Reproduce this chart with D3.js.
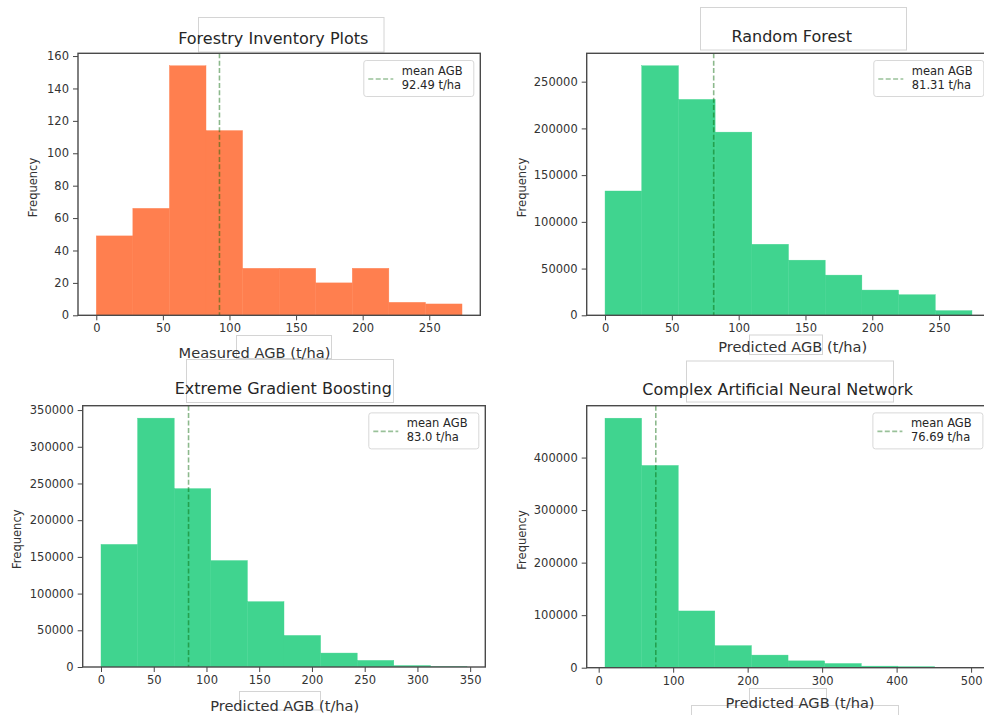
<!DOCTYPE html>
<html>
<head>
<meta charset="utf-8">
<script src="https://cdn.jsdelivr.net/npm/d3@7"></script>
<style>
  body { margin: 0; background: #fff; }
  svg { display: block; font-family: "DejaVu Sans", sans-serif; }
</style>
</head>
<body>
<svg id="chart" width="984" height="715"></svg>
<script>
// ---- data ----
const panelTitles = ["Forestry Inventory Plots", "Random Forest", "Extreme Gradient Boosting", "Complex Artificial Neural Network"];
const xAxisLabels = ["Measured AGB (t/ha)", "Predicted AGB (t/ha)", "Predicted AGB (t/ha)", "Predicted AGB (t/ha)"];
// min / max of each sample; each histogram uses 10 equal-width bins over it
const binRanges = [[0, 274.6], [0, 274.6], [0, 347], [8.5, 500]];
const plotCounts = [49, 66, 154, 114, 29, 29, 20, 29, 8, 7];
const rfCounts = [133000, 267000, 231000, 196000, 76000, 59000, 43000, 27000, 22000, 5000];
const xgbCounts = [167000, 339000, 243000, 145000, 89000, 43000, 19000, 9000, 2000, 400];
const annCounts = [475000, 385000, 108000, 42000, 24000, 13000, 8000, 3000, 2000, 300];
const meanAGB = [92.49, 81.31, 83.0, 76.69];
const meanLabels = ["92.49 t/ha", "81.31 t/ha", "83.0 t/ha", "76.69 t/ha"];
const xTickValues = [
  [0, 50, 100, 150, 200, 250],
  [0, 50, 100, 150, 200, 250],
  [0, 50, 100, 150, 200, 250, 300, 350],
  [0, 100, 200, 300, 400, 500]
];
const yTickValues = [
  [0, 20, 40, 60, 80, 100, 120, 140, 160],
  [0, 50000, 100000, 150000, 200000, 250000],
  [0, 50000, 100000, 150000, 200000, 250000, 300000, 350000],
  [0, 100000, 200000, 300000, 400000]
];

// ---- layout ----
const ORANGE = "#ff7f4f", GREEN = "#40d48f";
const panels = [
  { counts: plotCounts, color: ORANGE, box: { left: 78, top: 53.3, width: 402.3, height: 262 },
    title: [273.3, 38.3], xlab: [254.5, 352.3], ylab: [33.3, 187.5] },
  { counts: rfCounts, color: GREEN, box: { left: 586.7, top: 53.3, width: 403.6, height: 262 },
    title: [791.7, 36], xlab: [792.7, 346.7], ylab: [521.7, 187.5] },
  { counts: xgbCounts, color: GREEN, box: { left: 82.7, top: 405.7, width: 402.6, height: 261.3 },
    title: [283.3, 388.3], xlab: [284.7, 705.7], ylab: [16.7, 539.2] },
  { counts: annCounts, color: GREEN, box: { left: 586.7, top: 405.7, width: 402.7, height: 262 },
    title: [777.7, 389.3], xlab: [800, 702.7], ylab: [521.7, 540] }
];

// faint frame outlines sitting around some of the titles and labels
const frameOutlines = [
  [198.5, 17.5, 185.5, 34.5], [236.5, 335.5, 95, 23], [186.5, 359.5, 207, 43],
  [700.5, 7.5, 206, 42.5], [749.5, 335, 73, 19.5], [686.5, 361, 207, 41],
  [239.5, 691.5, 81, 18.5], [749.5, 688.5, 77, 17], [691.5, 705.5, 207, 20]
];

const svg = d3.select("#chart");
svg.append("rect").attr("width", 984).attr("height", 715).attr("fill", "#fff");

svg.append("g").selectAll("rect").data(frameOutlines).join("rect")
  .attr("x", d => d[0]).attr("y", d => d[1]).attr("width", d => d[2]).attr("height", d => d[3])
  .attr("fill", "none").attr("stroke", "#d4d4d4").attr("stroke-width", 1);

panels.forEach((p, i) => {
  const [lo, hi] = binRanges[i];
  const span = hi - lo;
  const nb = p.counts.length;
  const bw = span / nb;
  const bins = p.counts.map((c, k) => ({ x0: lo + k * bw, x1: lo + (k + 1) * bw, count: c }));
  const b = p.box;

  const x = d3.scaleLinear().domain([lo - 0.05 * span, hi + 0.05 * span]).range([b.left, b.left + b.width]);
  const y = d3.scaleLinear().domain([0, d3.max(p.counts) * 1.05]).range([b.top + b.height, b.top]);

  const g = svg.append("g");
  const clipId = "clip" + i;
  g.append("clipPath").attr("id", clipId).append("rect")
    .attr("x", b.left).attr("y", b.top).attr("width", b.width).attr("height", b.height);

  const plot = g.append("g").attr("clip-path", `url(#${clipId})`);
  plot.selectAll("rect.bar").data(bins).join("rect")
    .attr("class", "bar")
    .attr("x", d => x(d.x0)).attr("width", d => x(d.x1) - x(d.x0))
    .attr("y", d => y(d.count)).attr("height", d => y(0) - y(d.count))
    .attr("fill", p.color)
    .attr("stroke", p.color).attr("stroke-width", 0.4);

  // mean line
  plot.append("line")
    .attr("x1", x(meanAGB[i])).attr("x2", x(meanAGB[i]))
    .attr("y1", b.top).attr("y2", b.top + b.height)
    .attr("stroke", "darkgreen").attr("stroke-opacity", 0.45)
    .attr("stroke-width", 1.6).attr("stroke-dasharray", "5,2.4");

  // axes
  const xAxis = d3.axisBottom(x).tickValues(xTickValues[i]).tickSize(5).tickPadding(4).tickFormat(d3.format("d"));
  const yAxis = d3.axisLeft(y).tickValues(yTickValues[i]).tickSize(5).tickPadding(4).tickFormat(d3.format("d"));
  const gx = g.append("g").attr("transform", `translate(0,${b.top + b.height})`).call(xAxis);
  const gy = g.append("g").attr("transform", `translate(${b.left},0)`).call(yAxis);
  [gx, gy].forEach(ax => {
    ax.select(".domain").remove();
    ax.selectAll(".tick line").attr("stroke", "#444").attr("stroke-width", 1);
    ax.selectAll(".tick text").attr("fill", "#333").style("font-size", "11.5px").style("font-family", "DejaVu Sans");
  });

  // frame
  g.append("rect").attr("x", b.left).attr("y", b.top).attr("width", b.width).attr("height", b.height)
    .attr("fill", "none").attr("stroke", "#4a4a4a").attr("stroke-width", 1.4);

  // legend
  const lw = 110, lh = 36;
  const lx = b.left + b.width - 7 - lw, ly = b.top + 6.7;
  const lg = g.append("g").attr("transform", `translate(${lx},${ly})`);
  lg.append("rect").attr("x", 0.5).attr("y", 0.5).attr("width", lw).attr("height", lh)
    .attr("rx", 2.5).attr("fill", "#fff").attr("fill-opacity", 0.85)
    .attr("stroke", "#d8d8d8").attr("stroke-width", 1);
  lg.append("line").attr("x1", 5).attr("x2", 30).attr("y1", 19).attr("y2", 19)
    .attr("stroke", "darkgreen").attr("stroke-opacity", 0.4).attr("stroke-width", 1.6)
    .attr("stroke-dasharray", "5,2.4");
  const lt = lg.append("text").attr("x", 38.5).attr("fill", "#262626").style("font-size", "11.5px");
  lt.append("tspan").attr("x", 38.5).attr("y", 14.8).text("mean AGB");
  lt.append("tspan").attr("x", 38.5).attr("y", 29).text(meanLabels[i]);

  // title and axis labels
  g.append("text").attr("x", p.title[0]).attr("y", p.title[1]).attr("text-anchor", "middle")
    .attr("dominant-baseline", "central").attr("fill", "#262626").style("font-size", "16px")
    .text(panelTitles[i]);
  g.append("text").attr("x", p.xlab[0]).attr("y", p.xlab[1]).attr("text-anchor", "middle")
    .attr("dominant-baseline", "central").attr("fill", "#333").style("font-size", "14.6px")
    .text(xAxisLabels[i]);
  g.append("text").attr("transform", `translate(${p.ylab[0]},${p.ylab[1]}) rotate(-90)`)
    .attr("text-anchor", "middle").attr("dominant-baseline", "central")
    .attr("fill", "#333").style("font-size", "11.5px").text("Frequency");
});
</script>
</body>
</html>
